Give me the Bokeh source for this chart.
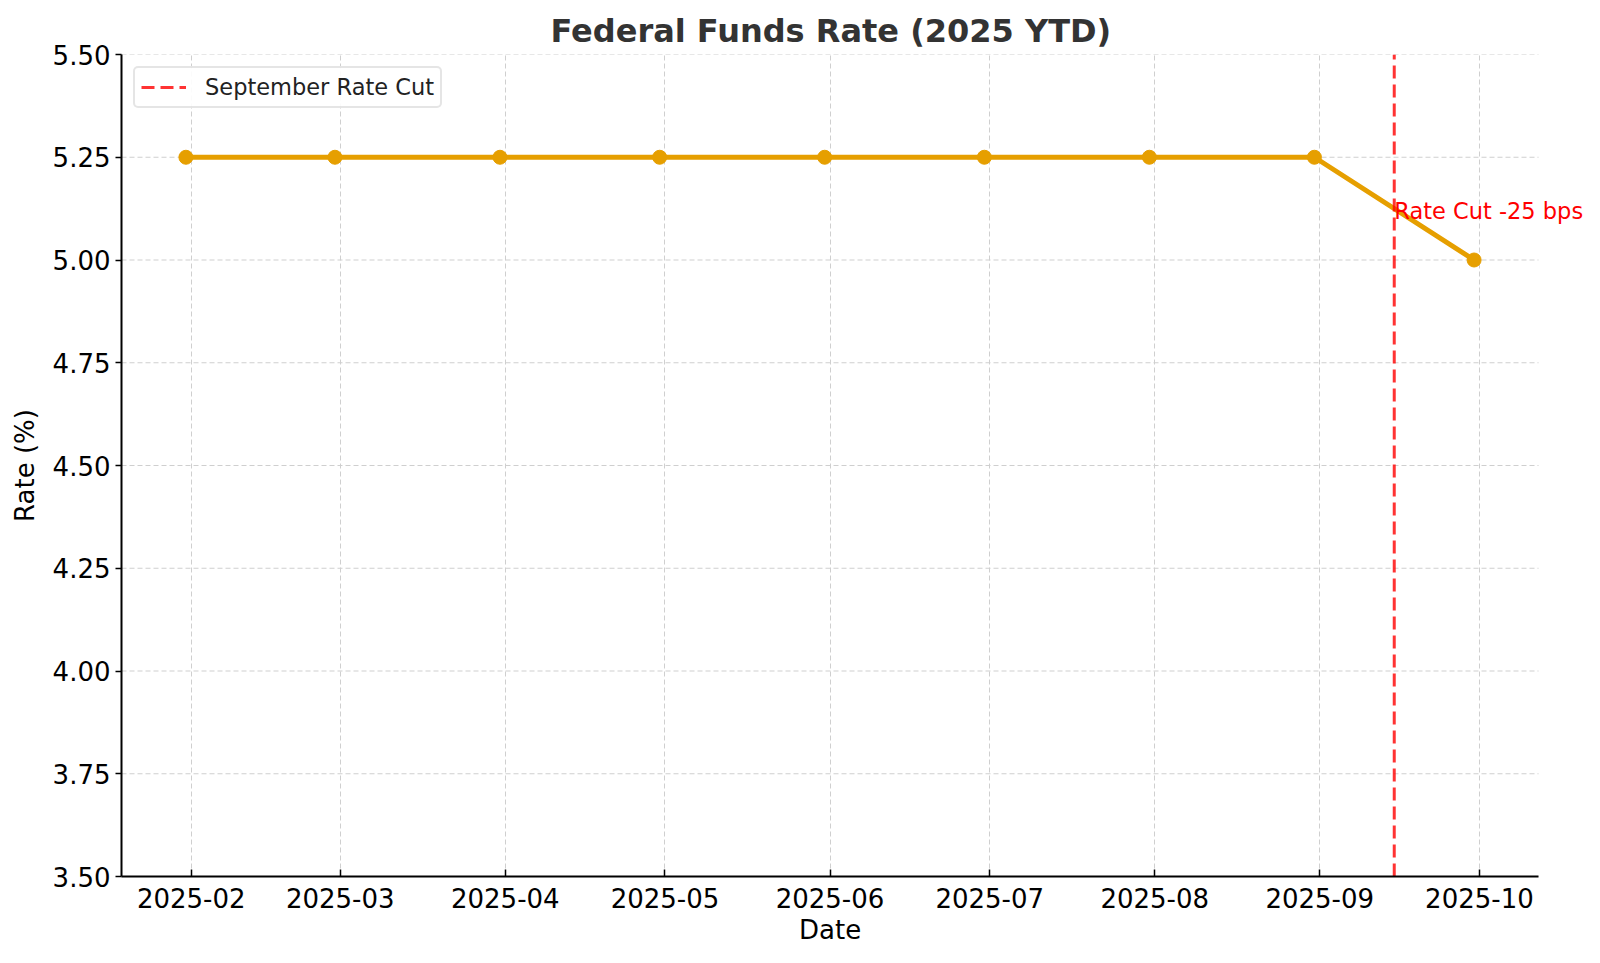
import pandas as pd
from bokeh.plotting import figure
from bokeh.models import (Label, Legend, LegendItem, FixedTicker, Title,
                          DatetimeTickFormatter, NumeralTickFormatter, Range1d,
                          ColumnDataSource)
from bokeh.embed import file_html
from bokeh.resources import INLINE

# ---- data ----
dates = ["2025-01-31", "2025-02-28", "2025-03-31", "2025-04-30", "2025-05-31",
         "2025-06-30", "2025-07-31", "2025-08-31", "2025-09-30"]
rates = [5.25, 5.25, 5.25, 5.25, 5.25, 5.25, 5.25, 5.25, 5.00]
cut_date = "2025-09-15"
cut_label = "Rate Cut -25 bps"
cut_label_y = 5.1
legend_label = "September Rate Cut"
x_label = "Date"
y_label = "Rate (%)"
tick_months = ["2025-02-01", "2025-03-01", "2025-04-01", "2025-05-01", "2025-06-01",
               "2025-07-01", "2025-08-01", "2025-09-01", "2025-10-01"]
y_ticks = [3.50, 3.75, 4.00, 4.25, 4.50, 4.75, 5.00, 5.25, 5.50]
y_min, y_max = 3.5, 5.5

FONT = "DejaVu Sans"
ORANGE = "#E69F00"

W, H = 1584, 952
B_LEFT, B_TOP, B_BOTTOM = 121, 54, 76
AXES_RIGHT_GAP = 46          # visual gap between drawn axes area and canvas edge
AXES_W = W - B_LEFT - AXES_RIGHT_GAP

x = pd.to_datetime(dates)
src = ColumnDataSource(dict(x=x, y=rates))

span_days = (x.max() - x.min())
x0 = x.min() - span_days * 0.05
x1 = x.max() + span_days * 0.05
# the frame runs to the canvas edge so the annotation text is not clipped;
# the visible axes (axis line, horizontal grid) stop at x1
x1_frame = x1 + (x1 - x0) * AXES_RIGHT_GAP / AXES_W

p = figure(width=W, height=H, x_axis_type="datetime",
           output_backend="svg", toolbar_location=None,
           x_range=Range1d(x0, x1_frame), y_range=Range1d(y_min, y_max),
           min_border_left=B_LEFT, min_border_right=0,
           min_border_top=B_TOP, min_border_bottom=B_BOTTOM)

p.title.text = "Federal Funds Rate (2025 YTD)"
p.title.align = "left"
p.title.offset = 429
p.title.text_font = FONT
p.title.text_font_size = "32px"
p.title.text_font_style = "bold"
p.title.text_color = "#333333"
p.title.standoff = 9

p.outline_line_color = None

GRID_COLOR = "#cfcfcf"
GRID_DASH = "5 3"
p.xgrid.grid_line_color = GRID_COLOR
p.xgrid.grid_line_dash = GRID_DASH
p.xgrid.grid_line_width = 1
p.ygrid.grid_line_color = None

# horizontal grid lines limited to the axes area
p.segment(x0=[x0] * len(y_ticks), y0=y_ticks, x1=[x1] * len(y_ticks), y1=y_ticks,
          line_color=GRID_COLOR, line_dash=GRID_DASH, line_width=1, level="underlay")

# axes
tick_ms = [pd.Timestamp(t).value / 1e6 for t in tick_months]
p.xaxis.ticker = FixedTicker(ticks=tick_ms)
fmt = "%Y-%m"
p.xaxis.formatter = DatetimeTickFormatter(
    microseconds=fmt, milliseconds=fmt, seconds=fmt, minsec=fmt, minutes=fmt,
    hourmin=fmt, hours=fmt, days=fmt, months=fmt, years=fmt)
p.yaxis.ticker = FixedTicker(ticks=y_ticks)
p.yaxis.formatter = NumeralTickFormatter(format="0.00")

for ax in (p.xaxis, p.yaxis):
    ax.axis_line_color = "black"
    ax.axis_line_width = 2
    ax.major_tick_line_color = "black"
    ax.major_tick_line_width = 1.5
    ax.minor_tick_line_color = None
    ax.major_label_text_font = FONT
    ax.major_label_text_font_size = "26px"
    ax.major_label_text_color = "black"
    ax.axis_label_text_font = FONT
    ax.axis_label_text_font_size = "26px"
    ax.axis_label_text_font_style = "normal"
    ax.axis_label_text_color = "black"

p.xaxis.axis_line_color = None   # drawn below, only across the axes area
p.xaxis.major_tick_in = 7
p.xaxis.major_tick_out = 0
p.yaxis.major_tick_in = 0
p.yaxis.major_tick_out = 6
p.xaxis.major_label_standoff = 11
p.yaxis.major_label_standoff = 5

p.yaxis.axis_label = y_label
p.yaxis.axis_label_standoff = 10

# x axis title, centred under the visible axes area
xt = Title(text=x_label, align="center", text_font=FONT, text_font_size="26px",
           text_font_style="normal", text_color="black", standoff=4,
           offset=0)
xt.align = "left"
xt.offset = AXES_W / 2 - 31
p.add_layout(xt, "below")

# bottom axis line
p.line(x=[x0, x1], y=[y_min, y_min], line_color="black", line_width=2, level="overlay")

# data line + markers
p.line("x", "y", source=src, line_color=ORANGE, line_width=5)
p.scatter("x", "y", source=src, size=14, fill_color=ORANGE, line_color=ORANGE)

# vertical cut line
cut_ts = pd.Timestamp(cut_date)
vline = p.line(x=[cut_ts, cut_ts], y=[y_min, y_max], line_color="red", line_alpha=0.8,
               line_width=3, line_dash="13 6")

p.add_layout(Label(x=cut_ts, y=cut_label_y, text=cut_label, text_color="red",
                   text_font=FONT, text_font_size="22.5px", y_offset=8,
                   text_baseline="alphabetic", text_align="left"))

legend = Legend(items=[LegendItem(label=legend_label, renderers=[vline])],
                location="top_left")
legend.label_text_font = FONT
legend.label_text_font_size = "22.5px"
legend.label_text_color = "#222222"
legend.border_line_color = "#cccccc"
legend.border_line_width = 2
legend.border_radius = 5
legend.background_fill_alpha = 0.9
legend.glyph_width = 45
legend.label_standoff = 19
legend.padding = 6
legend.margin = 12
legend.spacing = 0
p.add_layout(legend)

open("out.html", "w").write(file_html(p, INLINE))
